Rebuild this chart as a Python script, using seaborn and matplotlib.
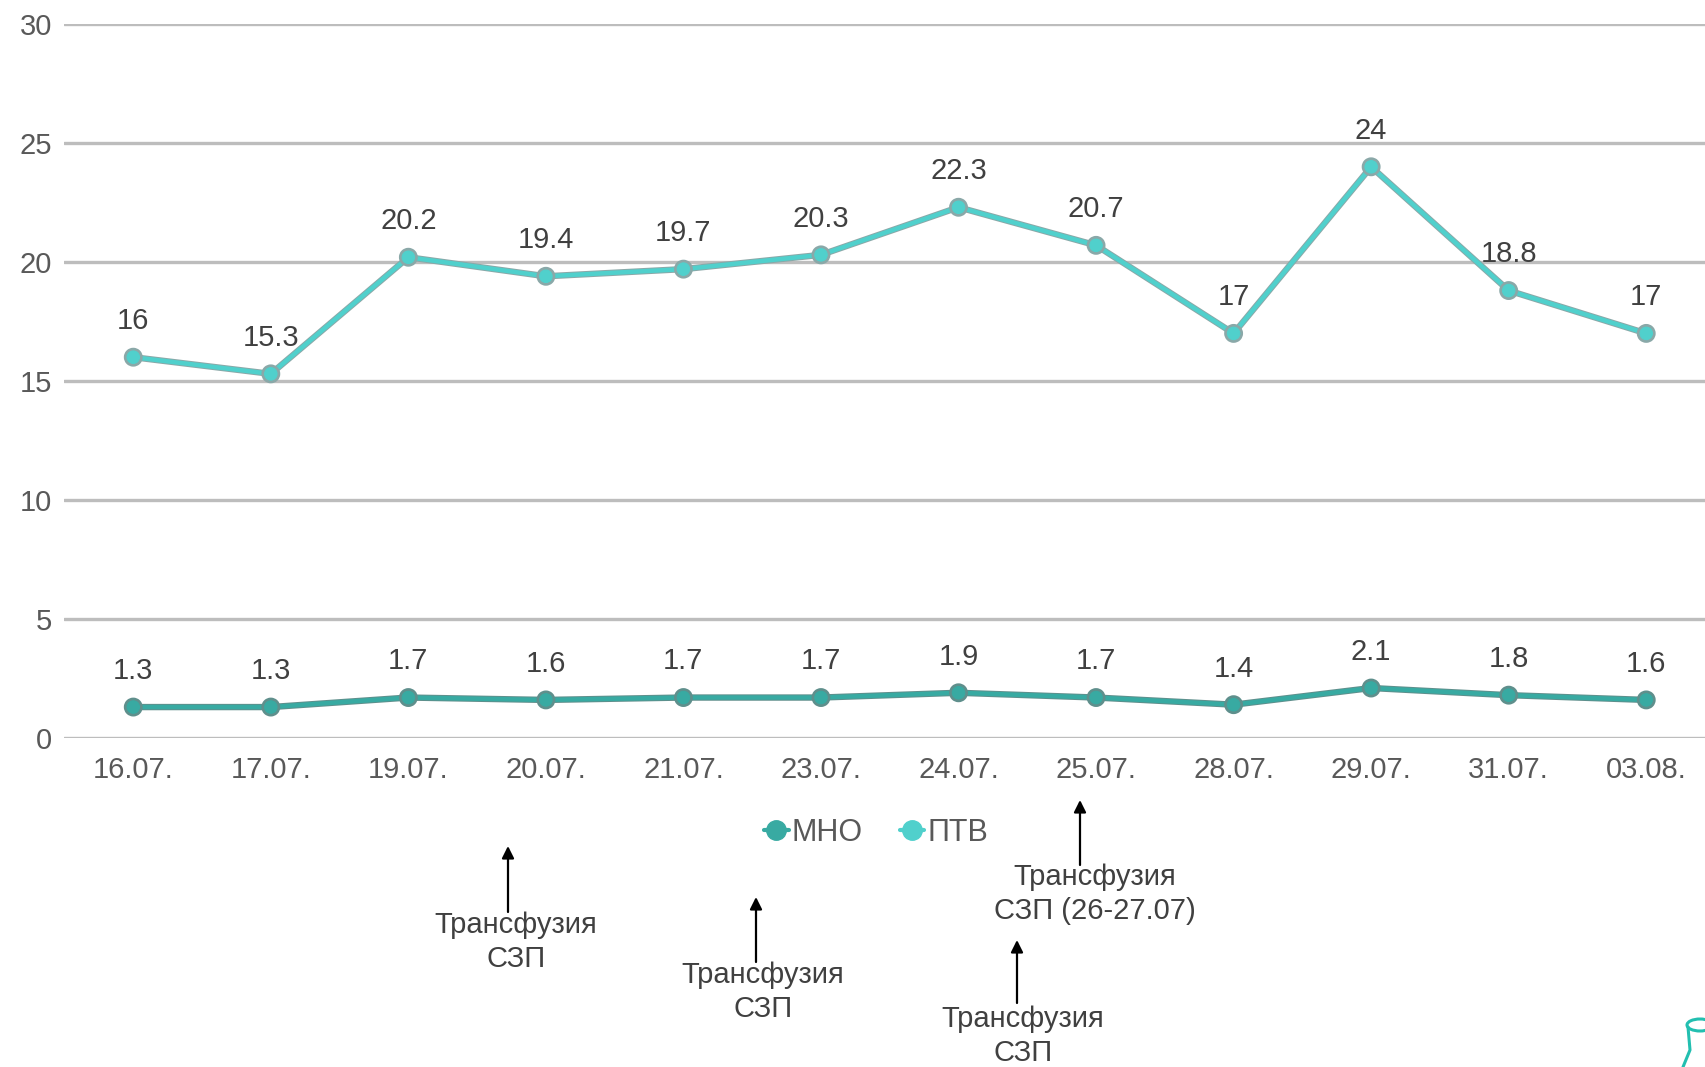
import numpy as np
import pandas as pd
import matplotlib
matplotlib.use("Agg")
import matplotlib.pyplot as plt
import matplotlib.patheffects as pe
from matplotlib.lines import Line2D
from matplotlib.patches import Arc, FancyArrowPatch
import seaborn as sns

# Coagulation values by date
dates = ["16.07.", "17.07.", "19.07.", "20.07.", "21.07.", "23.07.",
         "24.07.", "25.07.", "28.07.", "29.07.", "31.07.", "03.08."]
mno = [1.3, 1.3, 1.7, 1.6, 1.7, 1.7, 1.9, 1.7, 1.4, 2.1, 1.8, 1.6]
ptv = [16, 15.3, 20.2, 19.4, 19.7, 20.3, 22.3, 20.7, 17, 24, 18.8, 17]
series_names = ["МНО", "ПТВ"]
y_ticks = [0, 5, 10, 15, 20, 25, 30]

# Transfusion notes
notes_text = ["Трансфузия\nСЗП", "Трансфузия\nСЗП", "Трансфузия\nСЗП (26-27.07)", "Трансфузия\nСЗП"]

sns.set_theme(style="white")
plt.rcParams["font.family"] = ["Liberation Sans", "DejaVu Sans"]

colors = {"МНО": "#38aaa2", "ПТВ": "#50d0cc"}
edge = {"МНО": "#5f8f8c", "ПТВ": "#8aa8a8"}

df = pd.DataFrame({
    "date": dates * 2,
    "value": mno + ptv,
    "series": [series_names[0]] * len(dates) + [series_names[1]] * len(dates),
})
df["x"] = np.tile(np.arange(len(dates)), 2)

W, H = 1706, 1067
fig = plt.figure(figsize=(W / 100, H / 100), dpi=100)
ax = fig.add_axes([64.5 / W, 1 - 738 / H, (1715 - 64.5) / W, (738 - 24) / H])

sns.lineplot(data=df, x="x", y="value", hue="series", palette=colors,
             marker="o", markersize=9, linewidth=3.2, ax=ax, legend=False,
             sort=False)

for line, name in zip(ax.get_lines(), series_names):
    line.set_markeredgecolor(colors[name])
    line.set_path_effects([pe.Stroke(linewidth=4.6, foreground=edge[name]), pe.Normal()])
    line.set_zorder(4)

# value labels above each point
for vals in (mno, ptv):
    for i, v in enumerate(vals):
        ax.annotate(f"{v:g}", (i, v), xytext=(0, 26), textcoords="offset points",
                    ha="center", va="center", fontsize=21, color="#404040", zorder=5)

ax.set_xlim(-0.5, len(dates) - 0.5)
ax.set_ylim(0, 30)
ax.set_yticks(y_ticks)
ax.set_xticks(range(len(dates)))
ax.set_xticklabels(dates)
ax.set_xlabel("")
ax.set_ylabel("")
ax.tick_params(axis="x", length=0, pad=13, labelsize=21, labelcolor="#595959")
ax.tick_params(axis="y", length=0, pad=9, labelsize=21, labelcolor="#595959")
ax.grid(axis="y", color="#bdbdbd", linewidth=2.4, zorder=1)
ax.grid(axis="x", visible=False)
for s in ax.spines.values():
    s.set_visible(False)

# legend below the axis
handles = [Line2D([], [], color=colors[n], marker="o", markersize=14, linewidth=3,
                  markeredgecolor=colors[n]) for n in series_names]
fig.legend(handles, series_names, loc="center", bbox_to_anchor=(876 / W, 1 - 833 / H),
           ncol=2, frameon=False, fontsize=22, handlelength=0.8, handletextpad=0.1,
           columnspacing=1.2, labelcolor="#595959")

# transfusion arrows and notes (figure pixels)
notes_geom = [
    (508, 912, 846, 516, 942),
    (756, 962, 897, 763, 992),
    (1080, 865, 800, 1095, 894),
    (1017, 1003, 940, 1023, 1036),
]
for txt, (ax_x, tail_y, head_y, tx, ty) in zip(notes_text, notes_geom):
    fig.add_artist(FancyArrowPatch(
        (ax_x / W, 1 - tail_y / H), (ax_x / W, 1 - head_y / H),
        transform=fig.transFigure, arrowstyle="-|>", mutation_scale=18,
        color="black", linewidth=1.6, shrinkA=0, shrinkB=0))
    fig.text(tx / W, 1 - ty / H, txt, ha="center", va="center", fontsize=21,
             color="#404040", linespacing=1.25)

# corner mark
for t1, t2 in ((90, 270), (270, 90)):
    fig.add_artist(Arc((1700 / W, 1 - 1025 / H), 26 / W, 12 / H, theta1=t1, theta2=t2,
                       transform=fig.transFigure, color="#22bfb0", linewidth=2.2))
fig.add_artist(Line2D([1688 / W, 1690 / W, 1683 / W],
                      [1 - 1027 / H, 1 - 1050 / H, 1 - 1067 / H],
                      transform=fig.transFigure, color="#22bfb0", linewidth=2.2))

fig.savefig("out.png", dpi=100, facecolor="white")
